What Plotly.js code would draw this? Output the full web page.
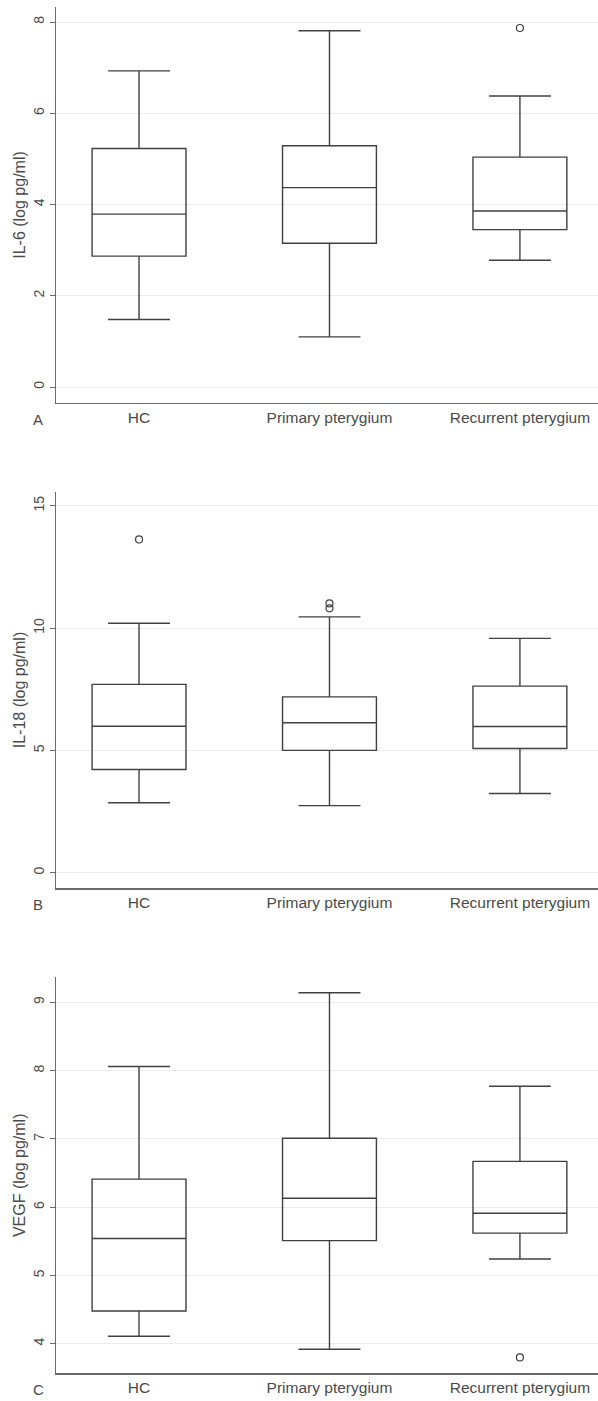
<!DOCTYPE html>
<html>
<head>
<meta charset="utf-8">
<script src="https://cdn.plot.ly/plotly-3.0.1.min.js"></script>
<style>html,body{margin:0;padding:0;background:#fff;}#chart{width:598px;height:1401px;}</style>
</head>
<body>
<div id="chart"></div>
<script>
var categories = ["HC", "Primary pterygium", "Recurrent pterygium"];

// Panel A: IL-6
var il6Lower = [1.48, 1.10, 2.78];
var il6Q1 = [2.87, 3.15, 3.45];
var il6Median = [3.79, 4.37, 3.86];
var il6Q3 = [5.23, 5.29, 5.04];
var il6Upper = [6.93, 7.81, 6.38];
var il6OutX = ["Recurrent pterygium"];
var il6OutY = [7.87];

// Panel B: IL-18
var il18Lower = [2.86, 2.74, 3.24];
var il18Q1 = [4.22, 5.00, 5.08];
var il18Median = [5.99, 6.13, 5.98];
var il18Q3 = [7.70, 7.19, 7.63];
var il18Upper = [10.20, 10.46, 9.58];
var il18OutX = ["HC", "Primary pterygium", "Primary pterygium"];
var il18OutY = [13.63, 11.01, 10.81];

// Panel C: VEGF
var vegfLower = [4.11, 3.92, 5.24];
var vegfQ1 = [4.48, 5.51, 5.62];
var vegfMedian = [5.54, 6.13, 5.91];
var vegfQ3 = [6.41, 7.01, 6.67];
var vegfUpper = [8.06, 9.14, 7.77];
var vegfOutX = ["Recurrent pterygium"];
var vegfOutY = [3.80];

var yTitles = ["IL-6 (log pg/ml)", "IL-18 (log pg/ml)", "VEGF (log pg/ml)"];
var panelLetters = ["A", "B", "C"];

var lineCol = "#404040";

function boxTrace(xa, ya, lo, q1, med, q3, up) {
  return {
    type: "box", x: categories, xaxis: xa, yaxis: ya,
    lowerfence: lo, q1: q1, median: med, q3: q3, upperfence: up,
    width: 0.493, whiskerwidth: 0.66,
    line: {color: lineCol, width: 1.4},
    fillcolor: "rgba(255,255,255,0)",
    boxpoints: false, hoverinfo: "skip", showlegend: false
  };
}
function outTrace(xa, ya, xs, ys) {
  return {
    type: "scatter", mode: "markers", x: xs, y: ys, xaxis: xa, yaxis: ya,
    marker: {symbol: "circle-open", size: 7, color: lineCol, line: {width: 1.2, color: lineCol}},
    showlegend: false, hoverinfo: "skip"
  };
}

var data = [
  boxTrace("x", "y", il6Lower, il6Q1, il6Median, il6Q3, il6Upper),
  outTrace("x", "y", il6OutX, il6OutY),
  boxTrace("x2", "y2", il18Lower, il18Q1, il18Median, il18Q3, il18Upper),
  outTrace("x2", "y2", il18OutX, il18OutY),
  boxTrace("x3", "y3", vegfLower, vegfQ1, vegfMedian, vegfQ3, vegfUpper),
  outTrace("x3", "y3", vegfOutX, vegfOutY)
];

var H = 1401;
function dom(top, bottom) { return [1 - bottom / H, 1 - top / H]; }

var fam = "Liberation Sans, Arial, sans-serif";
var txtCol = "#4a4a4a";

function xAxis(anchor) {
  return {
    anchor: anchor, domain: [0, 1], type: "category",
    categoryorder: "array", categoryarray: categories,
    range: [-0.436, 2.41],
    showline: true, linecolor: "#6a6a6a", linewidth: 1.4,
    showgrid: false, zeroline: false, ticks: "",
    tickfont: {family: fam, size: 15.5, color: txtCol},
    fixedrange: true
  };
}
function yAxis(anchor, domain, range, dtick, title) {
  return {
    anchor: anchor, domain: domain, range: range, dtick: dtick, tick0: 0,
    showline: true, linecolor: "#6a6a6a", linewidth: 1.4,
    showgrid: true, gridcolor: "#ececec", gridwidth: 1,
    zeroline: false, ticks: "outside", ticklen: 5, tickcolor: "#6a6a6a",
    tickangle: -90,
    tickfont: {family: fam, size: 14, color: txtCol},
    title: {text: title, font: {family: fam, size: 16, color: txtCol}, standoff: 1},
    fixedrange: true
  };
}

function letter(t, ypx) {
  return {text: t, xref: "paper", yref: "paper", x: (38 - 56) / 542, y: 1 - ypx / H,
    xanchor: "center", yanchor: "middle", showarrow: false,
    font: {family: fam, size: 15, color: txtCol}};
}

var layout = {
  width: 598, height: 1401,
  margin: {l: 56, r: 0, t: 0, b: 0},
  paper_bgcolor: "#fff", plot_bgcolor: "#fff",
  font: {family: fam, color: txtCol},
  xaxis: xAxis("y"),
  xaxis2: xAxis("y2"),
  xaxis3: xAxis("y3"),
  yaxis: yAxis("x", dom(7, 403), [-0.35, 8.33], 2, yTitles[0]),
  yaxis2: yAxis("x2", dom(491.7, 888.3), [-0.64, 15.58], 5, yTitles[1]),
  yaxis3: yAxis("x3", dom(977.3, 1373.3), [3.567, 9.366], 1, yTitles[2]),
  annotations: [
    letter(panelLetters[0], 419),
    letter(panelLetters[1], 905),
    letter(panelLetters[2], 1389)
  ]
};

Plotly.newPlot("chart", data, layout, {displayModeBar: false, staticPlot: true});
</script>
</body>
</html>
